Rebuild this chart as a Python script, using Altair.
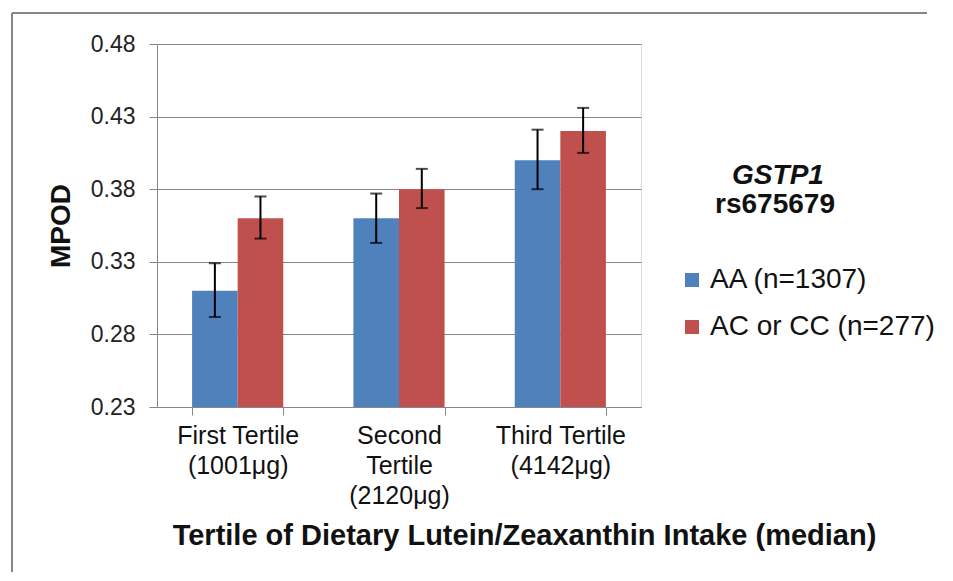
import altair as alt
import pandas as pd

categories = ["First Tertile|(1001μg)", "Second|Tertile|(2120μg)", "Third Tertile|(4142μg)"]
groups = ["AA (n=1307)", "AC or CC (n=277)"]
aa_mean = [0.31, 0.36, 0.40]
aa_low = [0.292, 0.343, 0.380]
aa_high = [0.329, 0.377, 0.421]
ac_mean = [0.36, 0.38, 0.42]
ac_low = [0.346, 0.367, 0.405]
ac_high = [0.375, 0.394, 0.436]
y_ticks = [0.23, 0.28, 0.33, 0.38, 0.43, 0.48]
colors = ["#4F81BD", "#C0504D"]
legend_title = ["GSTP1", "rs675679"]
x_title = "Tertile of Dietary Lutein/Zeaxanthin Intake (median)"
y_title = "MPOD"

rows = []
for g, m, lo, hi in [(groups[0], aa_mean, aa_low, aa_high),
                     (groups[1], ac_mean, ac_low, ac_high)]:
    for c, mv, l, h in zip(categories, m, lo, hi):
        rows.append(dict(cat=c, group=g, mean=mv, low=l, high=h))
df = pd.DataFrame(rows)

W, H = 484, 363
FONT = "Liberation Sans"
GRAY = "#868686"

x_enc = alt.X(
    "cat:N", sort=categories,
    scale=alt.Scale(paddingInner=0.435, paddingOuter=0.2175),
    axis=alt.Axis(
        title=x_title, labelExpr="split(datum.label, '|')", labelAngle=0,
        tickBand="extent", grid=False, domainColor=GRAY, tickColor=GRAY,
        tickSize=8, labelFont=FONT, labelFontSize=25, labelLineHeight=30,
        labelColor="#111", labelPadding=8, labelBaseline="top", labelLimit=300,
        titleFont=FONT, titleFontSize=29, titleFontWeight="bold", titleColor="#111",
        titleX=367, titleY=128, titleAlign="center", titleBaseline="middle",
    ),
)
xoff = alt.XOffset("group:N", sort=groups, scale=alt.Scale(paddingInner=0, paddingOuter=0))
y_scale = alt.Scale(domain=[0.23, 0.48], zero=False, nice=False)

bars = alt.Chart(df).mark_bar().encode(
    x=x_enc,
    xOffset=xoff,
    y=alt.Y("mean:Q", scale=y_scale, axis=alt.Axis(
        values=y_ticks, format=".2f", title=y_title, grid=True, gridColor=GRAY,
        domainColor=GRAY, tickColor=GRAY, tickSize=8, labelPadding=14,
        labelFont=FONT, labelFontSize=23, labelColor="#222",
        titleFont=FONT, titleFontSize=28, titleFontWeight="bold", titleColor="#111",
        titleX=-96, titleY=H / 2, titleAngle=-90, titleBaseline="middle", titleAlign="center",
    )),
    y2=alt.Y2Datum(0.23),
    color=alt.Color("group:N", sort=groups,
                    scale=alt.Scale(domain=groups, range=colors),
                    legend=alt.Legend(title=None, orient="none", legendX=521, legendY=222,
                                      symbolType="square", symbolSize=196, symbolStrokeWidth=0,
                                      labelFont=FONT, labelFontSize=28, labelColor="#111",
                                      labelLimit=400, rowPadding=19, labelOffset=4, padding=0)),
)

err = alt.Chart(df).mark_rule(color="#000", strokeWidth=2).encode(
    x=alt.X("cat:N", sort=categories), xOffset=xoff,
    y=alt.Y("low:Q", scale=y_scale), y2="high:Q")
cap_lo = alt.Chart(df).mark_tick(color="#000", size=12, thickness=2).encode(
    x=alt.X("cat:N", sort=categories), xOffset=xoff, y=alt.Y("low:Q", scale=y_scale))
cap_hi = alt.Chart(df).mark_tick(color="#000", size=12, thickness=2).encode(
    x=alt.X("cat:N", sort=categories), xOffset=xoff, y=alt.Y("high:Q", scale=y_scale))

t1 = alt.Chart(pd.DataFrame({"t": [legend_title[0]]})).mark_text(
    font=FONT, fontSize=28, fontWeight="bold", fontStyle="italic", color="#111",
    align="center", baseline="middle").encode(text="t:N", x=alt.value(621), y=alt.value(132))
t2 = alt.Chart(pd.DataFrame({"t": [legend_title[1]]})).mark_text(
    font=FONT, fontSize=28, fontWeight="bold", color="#111",
    align="center", baseline="middle").encode(text="t:N", x=alt.value(618), y=alt.value(161))

border_left = alt.Chart(pd.DataFrame({"a": [0]})).mark_rule(color=GRAY, strokeWidth=2).encode(
    x=alt.value(-145), y=alt.value(-31), y2=alt.value(528))
border_top = alt.Chart(pd.DataFrame({"a": [0]})).mark_rule(color=GRAY, strokeWidth=2).encode(
    x=alt.value(-145), x2=alt.value(770), y=alt.value(-31), y2=alt.value(-31))

chart = alt.layer(bars, err, cap_lo, cap_hi, t1, t2, border_left, border_top).properties(
    width=W, height=H,
    autosize=alt.AutoSizeParams(type="none"),
    padding={"left": 149, "top": 36, "right": 304, "bottom": 166},
).configure_view(stroke=None).configure(background="white")

chart.save("out.html", embed_options={"renderer": "svg", "actions": False})
